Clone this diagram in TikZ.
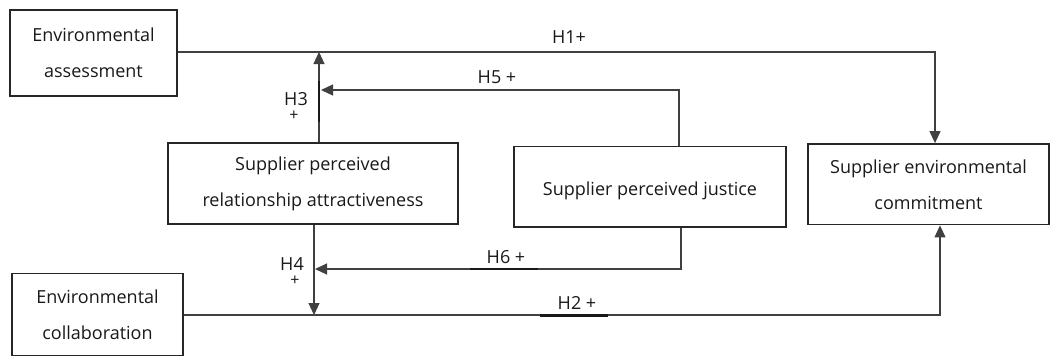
\documentclass[tikz,border=0pt]{standalone}
\usepackage{fontspec}
\setmainfont{Open Sans}
\usetikzlibrary{arrows.meta}
\begin{document}
\begin{tikzpicture}[x=1pt,y=-1pt,
  boxnode/.style={draw=black!85,line width=1.8pt,inner sep=0pt,align=center,
    font=\fontsize{18}{36}\selectfont,text=black!90},
  twoline/.style={execute at begin node={\rule{0pt}{29pt}}},
  oneline/.style={execute at begin node={\rule{0pt}{21pt}}},
  conn/.style={draw=black!75,line width=1.1pt},
  arr/.style={conn,-{Triangle[length=12pt,width=11pt]}},
  heavy/.style={draw=black!90,line width=2.2pt},
  lbl/.style={inner sep=0pt,font=\fontsize{18}{20}\selectfont,text=black!90},
  plus/.style={inner sep=0pt,font=\fontsize{16}{18}\selectfont,text=black!90}]
\useasboundingbox (0,0) rectangle (1052,357);
% boxes
\node[boxnode,twoline,minimum width=167pt,minimum height=86pt] (EA) at (93.5,53) {Environmental\\assessment};
\node[boxnode,twoline,minimum width=290pt,minimum height=81pt] (SPRA) at (313,183.5) {Supplier perceived\\relationship attractiveness};
\node[boxnode,oneline,minimum width=272pt,minimum height=80.5pt] (SPJ) at (650,186.75) {Supplier perceived justice};
\node[boxnode,twoline,minimum width=241pt,minimum height=80.5pt] (SEC) at (928.5,184.25) {Supplier environmental\\commitment};
\node[boxnode,twoline,minimum width=171pt,minimum height=82pt] (EC) at (97.5,314.5) {Environmental\\collaboration};
% coordinates
\coordinate (h1) at (935,52);
\coordinate (h3) at (319,52);
\coordinate (h5) at (679,90);
\coordinate (h5e) at (321,90);
\coordinate (h4) at (314,315);
\coordinate (h6) at (681,269);
\coordinate (h6e) at (315,269);
\coordinate (h2) at (940,315);
% connectors
\draw[arr] (EA.east |- h1) -- (h1) -- (h1 |- SEC.north);
\draw[arr] (EC.east |- h2) -- (h2) -- (h2 |- SEC.south);
\draw[arr] (h3 |- SPRA.north) -- (h3);
\draw[arr] (h5 |- SPJ.north) -- (h5) -- (h5e);
\draw[arr] (h4 |- SPRA.south) -- (h4);
\draw[arr] (h6 |- SPJ.south) -- (h6) -- (h6e);
% heavy segments
\draw[heavy] (319,81) -- (319,122);
\draw[heavy] (470,269) -- (538,269);
\draw[heavy] (540,315.5) -- (608,315.5);
% labels
\node[lbl] (l1) at (569,37) {H1+};
\node[lbl] (l5) at (497,77) {H5 +};
\node[lbl] (l3) at (296,99) {H3};
\node[plus] (l3p) at (294,116) {+};
\node[lbl] (l4) at (292,264) {H4};
\node[plus] (l4p) at (295,281) {+};
\node[lbl] (l6) at (506,257) {H6 +};
\node[lbl] (l2) at (577,303) {H2 +};
\end{tikzpicture}
\end{document}
